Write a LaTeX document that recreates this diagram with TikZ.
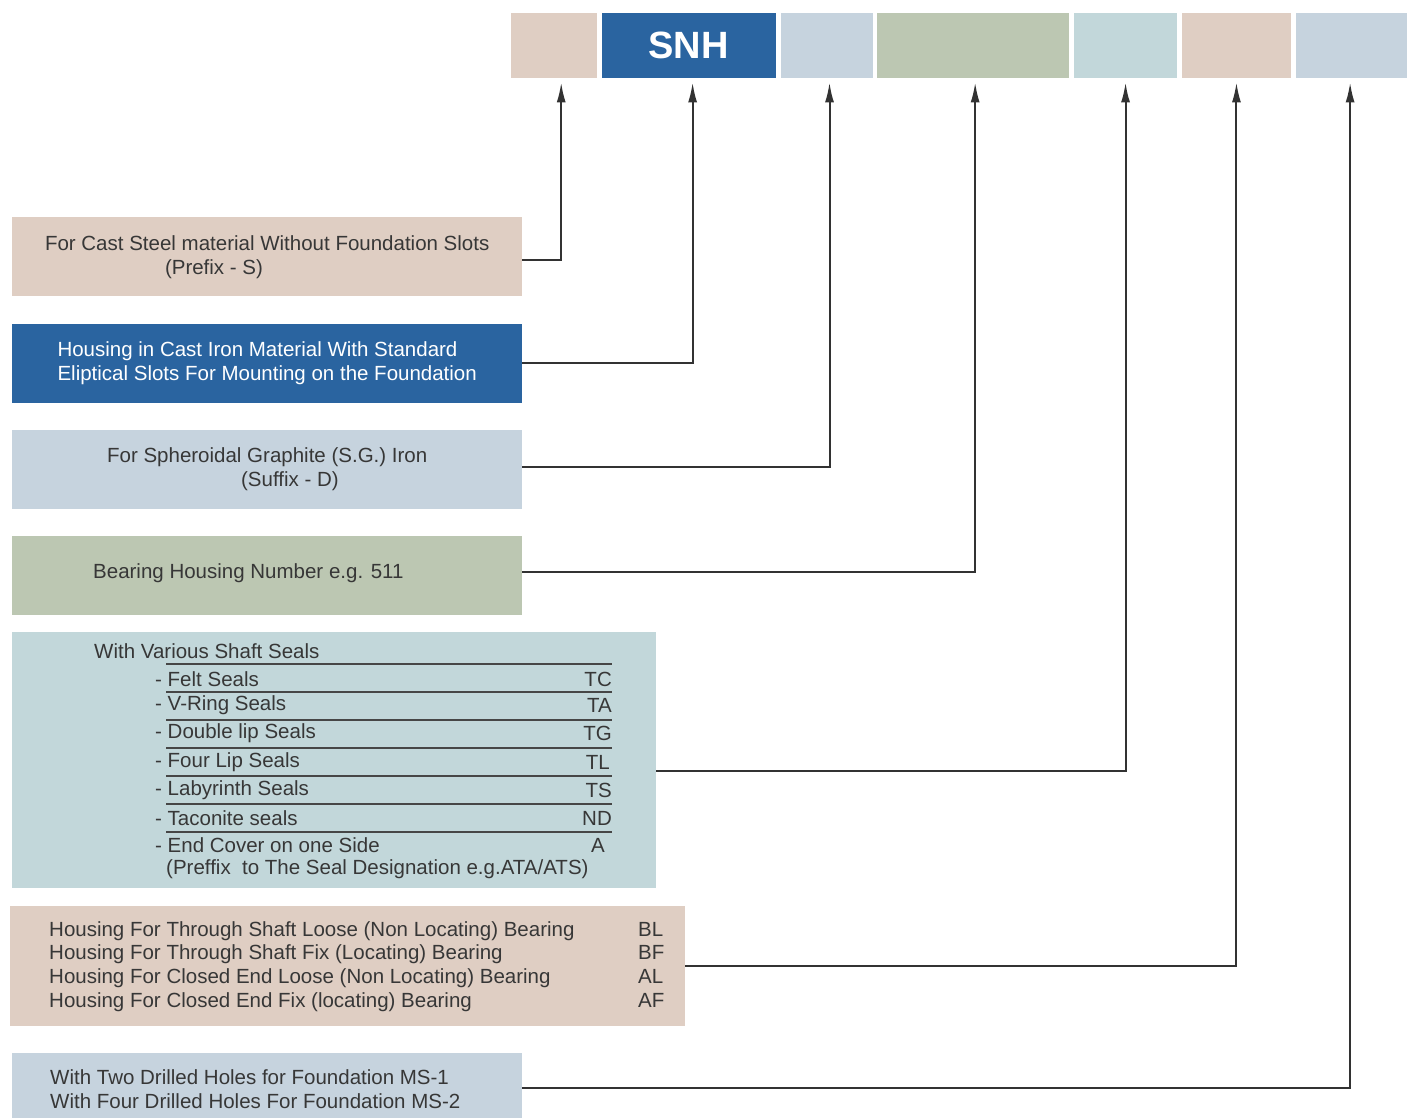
\documentclass[tikz,border=0pt]{standalone}
\usepackage{fontspec}
\setmainfont{Liberation Sans}
\usetikzlibrary{arrows.meta, positioning}

\definecolor{beige}{RGB}{223,206,195}
\definecolor{bleu}{RGB}{42,100,160}
\definecolor{gris}{RGB}{198,211,222}
\definecolor{vert}{RGB}{188,199,178}
\definecolor{turq}{RGB}{194,215,218}
\definecolor{encre}{RGB}{55,55,55}
\definecolor{filc}{RGB}{50,50,50}

\tikzstyle{case} = [rectangle, anchor=north west, inner sep=0pt, minimum height=65pt]
\tikzstyle{boite} = [rectangle, anchor=north west, inner sep=0pt, minimum width=510pt, minimum height=79pt, text=encre, align=left, font=\fontsize{20.5}{24}\selectfont]
\tikzstyle{txt} = [anchor=west, inner sep=0pt, text=encre, font=\fontsize{20.5}{23.6}\selectfont]
\tikzstyle{code} = [anchor=east, inner sep=0pt, text=encre, font=\fontsize{20.5}{24}\selectfont]
\tikzstyle{regle} = [line width=1.3pt, draw=gray!55!black]
\tikzstyle{fleche} = [-{Latex[length=20pt,width=9pt]}, line width=2pt, draw=filc, shorten >=4pt]

\begin{document}
\begin{tikzpicture}[x=1pt, y=-1pt]
	\useasboundingbox (0,0) rectangle (1415,1117);

	%% Barre de designation
	\node[case, fill=beige, minimum width=86pt] (cS) at (511,13) {};
	\node[case, fill=bleu, minimum width=174pt, right=4pt of cS, text=white, font=\fontsize{38}{40}\selectfont\bfseries] (cSNH) {SNH};
	\node[case, fill=gris, minimum width=92pt, right=4.5pt of cSNH] (cD) {};
	\node[case, fill=vert, minimum width=191.5pt, right=4.5pt of cD] (cNum) {};
	\node[case, fill=turq, minimum width=103.5pt, right=4.5pt of cNum] (cJoint) {};
	\node[case, fill=beige, minimum width=108.5pt, right=4.5pt of cJoint] (cPal) {};
	\node[case, fill=gris, minimum width=111pt, right=4.5pt of cPal] (cMS) {};

	%% Boites de description
	\node[boite, fill=beige] (acier) at (12,217) {For Cast Steel material Without Foundation Slots\\\hspace*{120pt}(Prefix - S)};
	\node[boite, fill=bleu, text=white, below=27pt of acier] (fonte) {Housing in Cast Iron Material With Standard\\Eliptical Slots For Mounting on the Foundation};
	\node[boite, fill=gris, below=27pt of fonte] (sg) {For Spheroidal Graphite (S.G.) Iron\\\hspace*{134pt}(Suffix - D)};
	\node[boite, fill=vert, below=27pt of sg] (numero) {};
	\node[txt] (num) at (93,573) {Bearing Housing Number e.g. 511};

	\node[boite, fill=turq, minimum width=644pt, minimum height=256pt] (joints) at (12,632) {};
	\node[boite, fill=beige, minimum width=675pt, minimum height=120pt] (palier) at (10,906) {};
	\node[boite, fill=gris, minimum height=70pt] (trous) at (12,1053) {};

	%% Joints
	\node[txt] (titreJ) at (94,651) {With Various Shaft Seals};
	\node[txt] (j1) at (155,679) {- Felt Seals};
	\node[code] (k1) at (612,679) {TC};
	\node[txt] (j2) at (155,705) {- V-Ring Seals};
	\node[code] (k2) at (612,705) {TA};
	\node[txt] (j3) at (155,733) {- Double lip Seals};
	\node[code] (k3) at (612,733) {TG};
	\node[txt] (j4) at (155,762) {- Four Lip Seals};
	\node[code] (k4) at (610,762) {TL};
	\node[txt] (j5) at (155,790) {- Labyrinth Seals};
	\node[code] (k5) at (612,790) {TS};
	\node[txt] (j6) at (155,818) {- Taconite seals};
	\node[code] (k6) at (612,818) {ND};
	\node[txt] (j7) at (155,845) {- End Cover on one Side};
	\node[code] (k7) at (605,845) {A};
	\node[txt] (j8) at (166,869) {(Preffix\ \ to The Seal Designation e.g.ATA/ATS)};

	\draw[regle] (166,664) -- (612,664);
	\draw[regle] (166,692) -- (612,692);
	\draw[regle] (166,720) -- (612,720);
	\draw[regle] (166,748) -- (612,748);
	\draw[regle] (166,776) -- (612,776);
	\draw[regle] (166,804) -- (612,804);
	\draw[regle] (166,832) -- (612,832);

	%% Paliers et trous
	\node[txt] (pal) at (49,967) {\begin{tabular}{@{}p{589pt}@{}l@{}}
		Housing For Through Shaft Loose (Non Locating) Bearing & BL\\
		Housing For Through Shaft Fix (Locating) Bearing & BF\\
		Housing For Closed End Loose (Non Locating) Bearing & AL\\
		Housing For Closed End Fix (locating) Bearing & AF
	\end{tabular}};
	\node[txt, align=left] (ms) at (50,1089) {With Two Drilled Holes for Foundation MS-1\\With Four Drilled Holes For Foundation MS-2};

	%% Fleches
	\draw[fleche] ([yshift=-3pt]acier.east) -| ([xshift=7pt]cS.south);
	\draw[fleche] (fonte.east) -| ([xshift=4pt]cSNH.south);
	\draw[fleche] ([yshift=3pt]sg.east) -| ([xshift=3pt]cD.south);
	\draw[fleche] ([yshift=4pt]numero.east) -| ([xshift=2pt]cNum.south);
	\draw[fleche] ([yshift=-11pt]joints.east) -| (cJoint.south);
	\draw[fleche] (palier.east) -| (cPal.south);
	\draw[fleche] (trous.east) -| ([xshift=-1pt]cMS.south);

\end{tikzpicture}
\end{document}
